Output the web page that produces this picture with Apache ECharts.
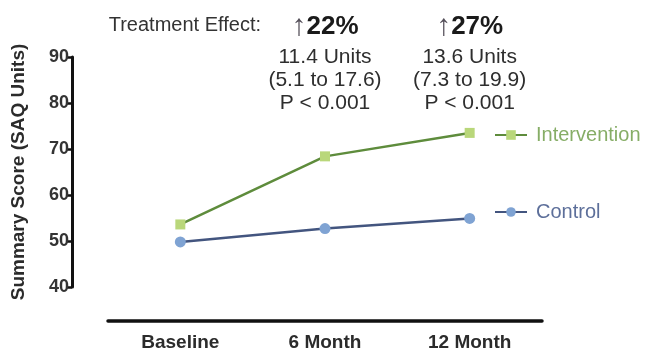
<!DOCTYPE html>
<html>
<head>
<meta charset="utf-8">
<script src="https://cdn.jsdelivr.net/npm/echarts@6/dist/echarts.min.js"></script>
<style>
  html, body { margin: 0; padding: 0; background: #fff; }
  #chart { width: 654px; height: 361px; }
</style>
</head>
<body>
<div id="chart"></div>
<script>
// Time points and mean SAQ summary scores per arm
const categories = ['Baseline', '6 Month', '12 Month'];
const interventionScores = [53.6, 68.4, 73.5];
const controlScores = [49.8, 52.7, 54.9];

// Treatment effect annotations, shown above the follow-up time points
const effectCategories = ['6 Month', '12 Month'];
const effectPercent = ['22%', '27%'];
const effectUnits = ['11.4 Units', '13.6 Units'];
const effectCI = ['(5.1 to 17.6)', '(7.3 to 19.9)'];
const effectP = ['P < 0.001', 'P < 0.001'];

const yMin = 40, yMax = 90, yStep = 10;

const FONT = '"Liberation Sans", Arial, Helvetica, sans-serif';
const GREEN_LINE = '#5e8c3c';
const GREEN_MARK = '#b9d77a';
const BLUE_LINE = '#43557f';
const BLUE_MARK = '#7fa3d3';

const chart = echarts.init(document.getElementById('chart'));

const option = {
  backgroundColor: '#ffffff',
  animation: false,
  textStyle: { fontFamily: FONT },
  grid: { left: 108, right: 112, top: 57, bottom: 74, containLabel: false },
  legend: {
    orient: 'vertical',
    left: 489,
    top: 120,
    itemWidth: 32,
    itemHeight: 12,
    itemGap: 57,
    textStyle: { fontFamily: FONT, fontSize: 20, padding: [0, 0, 0, 4] },
    data: [
      { name: 'Intervention', textStyle: { color: '#86ad66' } },
      { name: 'Control', textStyle: { color: '#5d6f9a' } }
    ]
  },
  xAxis: {
    type: 'category',
    data: categories,
    offset: 34,
    axisLine: { lineStyle: { color: '#111', width: 3.5 } },
    axisTick: { alignWithLabel: true, length: 5, lineStyle: { color: '#111', width: 2.5 } },
    axisLabel: { color: '#2b2b2b', fontWeight: 'bold', fontSize: 19, fontFamily: FONT, margin: 12 },
    splitLine: { show: false }
  },
  yAxis: {
    type: 'value',
    min: yMin,
    max: yMax,
    interval: yStep,
    offset: 36,
    name: 'Summary Score (SAQ Units)',
    nameLocation: 'middle',
    nameGap: 44,
    nameTextStyle: { color: '#2b2b2b', fontWeight: 'bold', fontSize: 19, fontFamily: FONT },
    axisLine: { show: true, lineStyle: { color: '#111', width: 3 } },
    axisTick: { show: true, length: 5, lineStyle: { color: '#111', width: 2.5 } },
    axisLabel: { color: '#333', fontWeight: 'bold', fontSize: 18, fontFamily: FONT, margin: 3 },
    splitLine: { show: false }
  },
  series: [
    {
      name: 'Intervention',
      type: 'line',
      data: interventionScores,
      symbol: 'rect',
      symbolSize: 10,
      lineStyle: { color: GREEN_LINE, width: 2.5 },
      itemStyle: { color: GREEN_MARK }
    },
    {
      name: 'Control',
      type: 'line',
      data: controlScores,
      symbol: 'circle',
      symbolSize: 11,
      lineStyle: { color: BLUE_LINE, width: 2.5 },
      itemStyle: { color: BLUE_MARK }
    }
  ]
};

chart.setOption(option);

// Annotation block centred over each follow-up category
const graphics = [{
  type: 'text',
  right: 654 - 261,
  top: 15,
  style: { text: 'Treatment Effect:', font: '20px ' + FONT, fill: '#333' }
}];
effectCategories.forEach(function (cat, i) {
  const cx = chart.convertToPixel({ xAxisIndex: 0 }, cat);
  graphics.push({
    type: 'text',
    x: cx,
    y: 27,
    style: {
      text: '{a|↑}{b|' + effectPercent[i] + '}',
      textAlign: 'center',
      textVerticalAlign: 'middle',
      rich: {
        a: { font: '30px ' + FONT, fill: '#55505a' },
        b: { font: 'bold 26px ' + FONT, fill: '#1a1a1a' }
      }
    }
  });
  [effectUnits[i], effectCI[i], effectP[i]].forEach(function (line, j) {
    graphics.push({
      type: 'text',
      x: cx,
      y: 57 + j * 23,
      style: {
        text: line,
        font: '21px ' + FONT,
        fill: '#2e2e2e',
        textAlign: 'center',
        textVerticalAlign: 'middle'
      }
    });
  });
});
chart.setOption({ graphic: graphics });
</script>
</body>
</html>
